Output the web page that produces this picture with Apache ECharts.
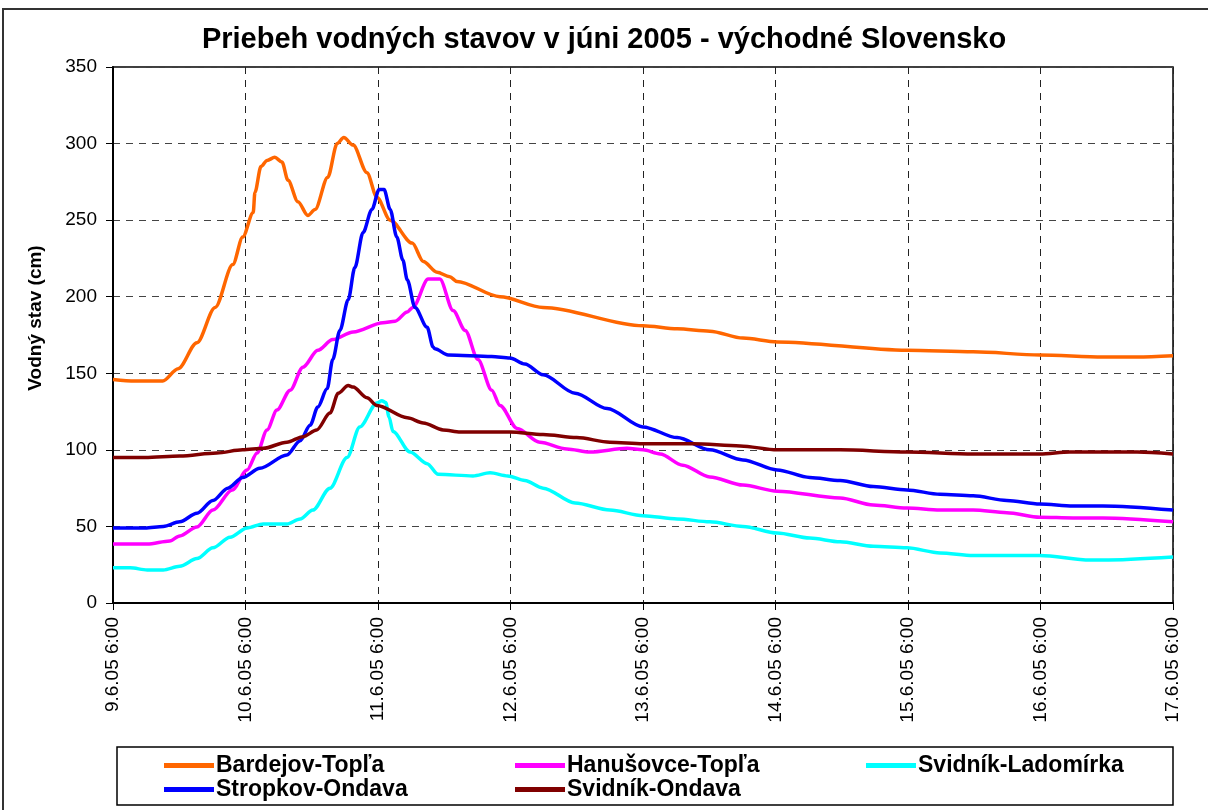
<!DOCTYPE html>
<html>
<head>
<meta charset="utf-8">
<script src="https://cdn.jsdelivr.net/npm/echarts@6/dist/echarts.min.js"></script>
<style>
  html, body { margin: 0; padding: 0; background: #fff; }
  #main { width: 1208px; height: 810px; }
</style>
</head>
<body>
<div id="main"></div>
<script>
// hours from 9.6.05 6:00, water level in cm
var tickLabels = ["9.6.05 6:00", "10.6.05 6:00", "11.6.05 6:00", "12.6.05 6:00",
  "13.6.05 6:00", "14.6.05 6:00", "15.6.05 6:00", "16.6.05 6:00", "17.6.05 6:00"];

var bardejov = [[0,146],[4,145],[9,145],[11.8,153],[15.2,170],[18.5,193],[21.7,221],[23.5,239],
  [25.4,255],[25.7,268],[26.8,285],[27.9,289],[29.3,291],[30.6,288],[31.7,276],[33.5,262],
  [35.3,253],[36.6,257],[38.9,278],[40.6,300],[41.8,304],[43.5,299],[46,281],[47.8,265],
  [50.2,250],[54.2,235],[56.2,223],[58.7,216],[61,213],[62.3,210],[70.1,200],[77.9,193],
  [96,181],[102.2,179],[108.1,177.5],[114.1,173],[120.3,170.5],[143.8,165],[155.8,164],
  [167.9,162],[179.3,160.6],[185.5,160.6],[192,161.5]];

var hanusovce = [[0,38.5],[6.2,38.5],[10.3,40.5],[12.1,43.8],[15.2,49.7],[18.1,60.7],[21.6,73.8],
  [24.3,86.9],[26.1,98],[27.9,113],[29.7,126],[32.1,139],[34.4,154],[37.1,165],[39.8,172],
  [43.5,177],[48.9,183],[51.1,184],[53.3,190],[54.3,193],[57.1,211.5],[59.2,211.5],[61.6,191],
  [63.8,178],[66.1,159],[68.6,139],[70.1,129],[73.2,114],[77.3,105],[82.2,100.6],[86.4,98.6],
  [93.1,101],[96,100],[99.1,97.3],[103.2,90],[108.1,82.3],[114.1,77],[120.3,73],[131.7,68.6],
  [137.7,64],[143.8,62],[149.8,60.7],[155.8,60.7],[161.9,59],[167.9,56],[173.9,55.5],
  [179.3,55.5],[192,53]];

var ladomirka = [[0,23],[3.1,23],[6.2,21.6],[9.1,21.6],[12.1,24],[15.2,29],[18.1,36],[21.2,43],
  [24.3,49],[27.2,51.6],[31.5,51.6],[33.9,54.9],[36.2,60.7],[39.3,75],[42.4,95],[44.7,115],
  [47.8,130.6],[48.7,132],[49.4,131],[50,121.5],[50.7,112],[53.8,98.6],[56.9,91],[58.9,84],
  [65.2,83],[68.3,85],[71.5,83],[74.6,80],[77.9,75],[83.7,65.3],[90,60.7],[96,57],[102.2,54.9],
  [108.1,53],[114.1,50],[120.3,45.7],[126.2,42.4],[131.7,40],[137.7,37],[143.8,36],[149.8,32.7],
  [155.8,31],[167.9,31],[177,28],[179.3,28],[192,30]];

var stropkov = [[0,49],[5.8,49],[9.1,50],[12.1,53],[15.2,58.6],[18.1,67],[20.8,75],[23.5,82],
  [26.6,88],[31.5,96.7],[33.9,106],[35.7,116],[37.1,128],[38.8,140],[39.8,159],[41.1,178],
  [42.6,198],[43.8,219],[45.3,242],[46.9,257],[48.2,270],[49.1,270],[50.2,257],[51.4,239],
  [52.5,224],[53.3,211],[54.7,193],[56.9,180],[58,167],[58.3,166],[60.7,162],[68.6,161],
  [71.9,160],[74.6,156],[77.9,149],[83.7,137],[89.5,127],[96,115],[102.2,108],[108.1,100],
  [114.1,93.4],[120.3,86.9],[126.2,82],[131.7,80],[137.7,76],[143.8,73.8],[149.8,71],
  [155.8,70],[161.9,67],[167.9,64.7],[173.9,63.4],[179.3,63.4],[192,60.7]];

var ondava = [[0,95],[5.8,95],[12.1,96],[18.8,98],[23.5,100],[27.2,101],[31.5,105],[34.4,108.6],
  [36.9,113],[39.3,124],[40.8,137],[42.6,142],[43.5,141],[46,134],[47.8,129],[53.3,121],
  [56.2,117.6],[59.8,113],[62.9,111.7],[71.9,111.7],[77.9,110],[84,108],[90,105],[96,104],
  [105.1,104],[113.6,102.6],[120.3,100],[131.7,100],[143.8,98.6],[155.8,97.3],[167.9,97.3],
  [173.3,98.6],[185.5,98.6],[192,97.3]];

var seriesNames = ["Bardejov-Topľa", "Hanušovce-Topľa", "Svidník-Ladomírka", "Stropkov-Ondava", "Svidník-Ondava"];
var seriesData = [bardejov, hanusovce, ladomirka, stropkov, ondava];
var seriesColors = ["#FF6600", "#FF00FF", "#00FFFF", "#0000FF", "#800000"];

var chartDom = document.getElementById("main");
var myChart = echarts.init(chartDom);

var font = "Liberation Sans, Arial, sans-serif";
var legendPos = [[159, 749], [510, 749], [861, 749], [159, 773], [510, 773]];

var option = {
  animation: false,
  textStyle: { fontFamily: font },
  title: {
    text: "Priebeh vodných stavov v júni 2005 - východné Slovensko",
    left: "center",
    top: 20,
    textStyle: { fontFamily: font, fontSize: 29, fontWeight: "bold", color: "#000" },
  },
  legend: legendPos.map(function (p, i) {
    return {
      left: p[0],
      top: p[1],
      data: [seriesNames[i]],
      icon: "rect",
      itemWidth: 50,
      itemHeight: 5,
      itemGap: 0,
      textStyle: { fontFamily: font, fontSize: 23, fontWeight: "bold", color: "#000", padding: [0, 0, 0, -3] },
    };
  }),
  grid: {
    left: 113,
    right: 35,
    top: 67,
    bottom: 207,
    show: true,
    borderColor: "#000",
    borderWidth: 1.5,
  },
  xAxis: {
    type: "value",
    min: 0,
    max: 192,
    interval: 24,
    axisLine: { lineStyle: { color: "#000", width: 2 } },
    axisTick: { show: true, length: 7, lineStyle: { color: "#000" } },
    axisLabel: {
      rotate: 90,
      margin: 14,
      fontSize: 19,
      color: "#000",
      fontFamily: font,
      formatter: function (v) { return tickLabels[Math.round(v / 24)]; },
    },
    splitLine: { show: true, lineStyle: { color: "#222", width: 1, type: [7, 6] } },
  },
  yAxis: {
    type: "value",
    min: 0,
    max: 350,
    interval: 50,
    name: "Vodný stav (cm)",
    nameLocation: "middle",
    nameGap: 68,
    nameTextStyle: { fontFamily: font, fontSize: 19, fontWeight: "bold", color: "#000", padding: [0, 0, 0, 34] },
    axisLine: { show: true, lineStyle: { color: "#000", width: 2 } },
    axisTick: { show: true, length: 7, lineStyle: { color: "#000" } },
    axisLabel: { fontSize: 19, color: "#000", margin: 16, fontFamily: font },
    splitLine: { show: true, lineStyle: { color: "#444", width: 1, type: [7, 6] } },
  },
  graphic: [
    {
      type: "rect",
      shape: { x: 3, y: 9, width: 1220, height: 820 },
      style: { fill: null, stroke: "#333", lineWidth: 2 },
      silent: true,
    },
    {
      type: "rect",
      shape: { x: 117, y: 747, width: 1056, height: 58 },
      style: { fill: null, stroke: "#000", lineWidth: 1.5 },
      silent: true,
    },
  ],
  series: seriesData.map(function (d, i) {
    return {
      name: seriesNames[i],
      type: "line",
      data: d,
      symbol: "none",
      smooth: 0.3,
      smoothMonotone: "x",
      color: seriesColors[i],
      lineStyle: { width: 3.5, color: seriesColors[i] },
    };
  }),
};

option && myChart.setOption(option);
</script>
</body>
</html>
